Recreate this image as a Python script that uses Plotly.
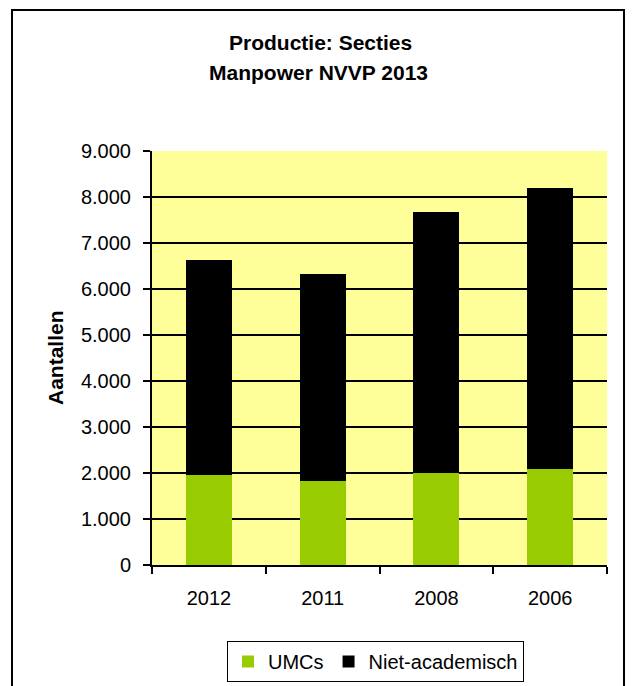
import plotly.graph_objects as go

years = ["2012", "2011", "2008", "2006"]
umcs = [1960, 1825, 2005, 2090]
niet_academisch = [4670, 4505, 5670, 6105]
y_ticks = [0, 1000, 2000, 3000, 4000, 5000, 6000, 7000, 8000, 9000]

W, H = 632, 686
L, R, T, B = 152, 607, 151, 565  # plot area pixels

def px(x):
    return (x - L) / (R - L)

def py(y):
    return (B - y) / (B - T)

FONT = "Arial, Liberation Sans, sans-serif"

fig = go.Figure()
fig.add_trace(go.Bar(name="UMCs", x=years, y=umcs, marker=dict(color="#99CC00", line=dict(width=0))))
fig.add_trace(go.Bar(name="Niet-academisch", x=years, y=niet_academisch,
                     marker=dict(color="#000000", line=dict(width=0))))

fig.update_layout(
    width=W, height=H,
    margin=dict(l=L, r=W - R, t=T, b=H - B, pad=0, autoexpand=False),
    barmode="stack", bargap=0.595,
    paper_bgcolor="white", plot_bgcolor="#FFFF99",
    separators=",.",
    font=dict(family=FONT, size=20, color="black"),
    showlegend=True,
    legend=dict(orientation="h", x=px(375.5), xanchor="center", y=py(641), yanchor="top",
                bordercolor="black", borderwidth=1, bgcolor="white",
                font=dict(size=20, family=FONT), traceorder="normal",
                tracegroupgap=0, itemwidth=30),
)
fig.update_yaxes(range=[0, 9000], tickvals=y_ticks, tickformat=",d",
                 showgrid=True, gridcolor="#000000", gridwidth=1.5,
                 showline=True, linecolor="black", linewidth=2,
                 ticks="outside", ticklen=7, tickcolor="black", tickwidth=1.5,
                 ticklabelstandoff=8, zeroline=False, fixedrange=True,
                 tickfont=dict(size=20), automargin=False)
fig.update_xaxes(type="category", showline=True, linecolor="black", linewidth=2,
                 ticks="outside", ticklen=7, tickcolor="black", tickwidth=1.5,
                 tickson="boundaries", showgrid=False, ticklabelstandoff=14,
                 tickfont=dict(size=20), fixedrange=True, automargin=False)

fig.add_annotation(text="<b>Productie: Secties</b>", xref="paper", yref="paper",
                   x=px(320), y=py(43), xanchor="center", yanchor="middle",
                   showarrow=False, font=dict(size=21, family=FONT))
fig.add_annotation(text="<b>Manpower NVVP 2013</b>", xref="paper", yref="paper",
                   x=px(318), y=py(72), xanchor="center", yanchor="middle",
                   showarrow=False, font=dict(size=21, family=FONT))
fig.add_annotation(text="<b>Aantallen</b>", xref="paper", yref="paper",
                   x=px(55), y=py(358), xanchor="center", yanchor="middle",
                   textangle=-90, showarrow=False, font=dict(size=21, family=FONT))

fig.add_shape(type="rect", xref="paper", yref="paper",
              x0=px(12), x1=px(624), y0=py(760), y1=py(10),
              line=dict(color="black", width=2), fillcolor="rgba(0,0,0,0)", layer="above")

fig.write_html("out.html", config={"displayModeBar": False},
               post_script="document.body.style.margin='0px';")
